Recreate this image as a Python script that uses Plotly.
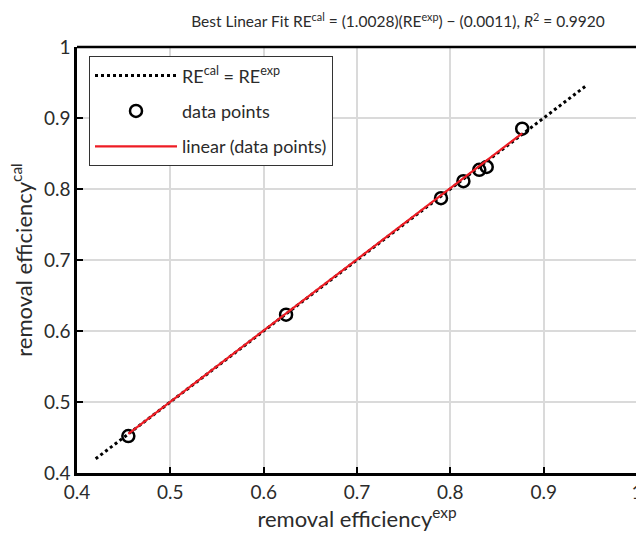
import numpy as np
import plotly.graph_objects as go

# data
re_exp = [0.455, 0.624, 0.790, 0.814, 0.831, 0.839, 0.877]
re_cal = [0.452, 0.623, 0.787, 0.811, 0.827, 0.831, 0.885]
fit_slope = 1.0028
fit_intercept = -0.0011
ideal_range = [0.42, 0.945]
x_ticks = [0.4, 0.5, 0.6, 0.7, 0.8, 0.9, 1.0]
y_ticks = [0.4, 0.5, 0.6, 0.7, 0.8, 0.9, 1.0]
tick_text = ["0.4", "0.5", "0.6", "0.7", "0.8", "0.9", "1"]

FONT = "Lato"
TXT = "#2b2b2b"

fit_x = np.array([min(re_exp), max(re_exp)])
fit_y = fit_slope * fit_x + fit_intercept

fig = go.Figure()
fig.add_trace(go.Scatter(
    x=ideal_range, y=ideal_range, mode="lines",
    line=dict(color="black", dash="dot", width=3),
    name="RE<sup>cal</sup> = RE<sup>exp</sup>", legendgroup="a", legendrank=1))
fig.add_trace(go.Scatter(
    x=re_exp, y=re_cal, mode="markers",
    marker=dict(symbol="circle-open", size=12, color="black", line=dict(width=2.5, color="black")),
    name="data points", legendgroup="b", legendrank=2))
fig.add_trace(go.Scatter(
    x=fit_x, y=fit_y, mode="lines",
    line=dict(color="#ee1c24", width=2.2),
    name="linear (data points)", legendgroup="c", legendrank=3))

axis_common = dict(
    showgrid=True, gridcolor="#dadada", gridwidth=2,
    showline=True, linecolor="black", linewidth=2.5, mirror=False,
    ticks="inside", ticklen=6, tickwidth=2, tickcolor="black",
    tickfont=dict(family=FONT, size=19, color=TXT),
    zeroline=False, automargin=False,
)

fig.update_layout(
    width=650, height=538,
    margin=dict(l=77, r=13, t=47, b=65),
    paper_bgcolor="white", plot_bgcolor="white",
    title=dict(
        text="Best Linear Fit RE<sup>cal</sup> = (1.0028)(RE<sup>exp</sup>) − (0.0011), <i>R</i><sup>2</sup> = 0.9920",
        x=398 / 650, xanchor="center", y=1 - 22 / 538, yanchor="middle",
        font=dict(family=FONT, size=15.5, color=TXT)),
    xaxis=dict(axis_common, range=[0.4, 1.0], tickvals=x_ticks, ticktext=tick_text,
               title=dict(text="removal efficiency<sup>exp</sup>", font=dict(family=FONT, size=22, color=TXT), standoff=11)),
    yaxis=dict(axis_common, range=[0.4, 1.0], tickvals=y_ticks, ticktext=tick_text,
               title=dict(text="removal efficiency<sup>cal</sup>", font=dict(family=FONT, size=22, color=TXT), standoff=6)),
    legend=dict(
        x=12 / 560, y=0.978, xanchor="left", yanchor="top",
        bgcolor="white", bordercolor="#333333", borderwidth=1,
        font=dict(family=FONT, size=18, color=TXT),
        itemwidth=82, tracegroupgap=9, traceorder="grouped"),
    showlegend=True,
)
# top border line
fig.add_shape(type="line", xref="paper", yref="paper", x0=0, x1=1, y0=1, y1=1,
              line=dict(color="black", width=2.5))

fig.write_html("out.html", post_script="document.body.style.overflow='hidden';")
